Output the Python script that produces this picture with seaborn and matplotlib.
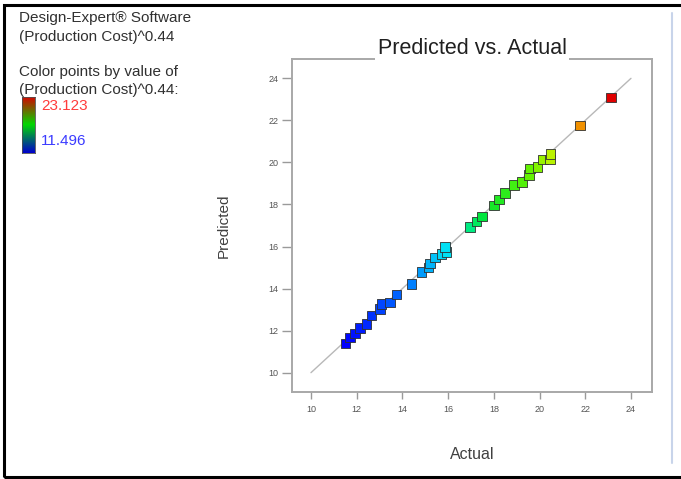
import numpy as np
import pandas as pd
import matplotlib
matplotlib.use("Agg")
import matplotlib.pyplot as plt
from matplotlib.colors import LinearSegmentedColormap, Normalize
from matplotlib.patches import Rectangle
from matplotlib.lines import Line2D
import seaborn as sns

# Observed vs. model-predicted (Production Cost)^0.44
actual = [11.50, 11.71, 11.92, 12.14, 12.44, 12.66, 13.02, 13.09, 13.46, 13.75,
          14.41, 14.84, 15.13, 15.21, 15.42, 15.72, 15.94, 15.86, 16.96, 17.25,
          17.49, 18.01, 18.22, 18.49, 18.89, 19.24, 19.54, 19.58, 19.92, 20.16,
          20.45, 20.49, 21.77, 23.12]
predicted = [11.40, 11.68, 11.87, 12.13, 12.32, 12.71, 13.03, 13.27, 13.35, 13.71,
             14.22, 14.78, 15.01, 15.18, 15.49, 15.65, 15.73, 15.97, 16.92, 17.20,
             17.44, 17.95, 18.24, 18.54, 18.93, 19.06, 19.41, 19.70, 19.78, 20.13,
             20.13, 20.41, 21.76, 23.08]
color_min, color_max = 11.496, 23.123
ref_line = [10, 24]
x_ticks = [10, 12, 14, 16, 18, 20, 22, 24]
y_ticks = [10, 12, 14, 16, 18, 20, 22, 24]

df = pd.DataFrame({"Actual": actual, "Predicted": predicted})

sns.set_theme(style="white")
plt.rcParams["font.family"] = ["Liberation Sans", "DejaVu Sans"]

W, H = 681, 479
fig = plt.figure(figsize=(W / 100, H / 100), dpi=100)

def fx(px):
    return px / W

def fy(py):
    return 1 - py / H

ax = fig.add_axes([fx(292), fy(392), fx(652) - fx(292), fy(59) - fy(392)])

point_cmap = LinearSegmentedColormap.from_list(
    "de_points",
    [(0.00, (0.00, 0.00, 1.00)),
     (0.25, (0.00, 0.50, 1.00)),
     (0.40, (0.00, 0.95, 0.95)),
     (0.52, (0.00, 0.90, 0.20)),
     (0.70, (0.40, 0.95, 0.00)),
     (0.78, (0.75, 0.95, 0.00)),
     (0.88, (0.95, 0.60, 0.00)),
     (1.00, (0.88, 0.00, 0.00))])
norm = Normalize(color_min, color_max)

# y = x reference line
sns.lineplot(x=ref_line, y=ref_line, ax=ax, color="#b8b8b8", linewidth=1.0,
             zorder=1)
sns.scatterplot(data=df, x="Actual", y="Predicted", hue="Actual",
                palette=point_cmap, hue_norm=norm, marker="s", s=46,
                edgecolor="#303030", linewidth=0.6, legend=False, ax=ax,
                zorder=3)

ax.set_xlim(9.17, 24.92)
ax.set_ylim(9.08, 24.92)
ax.set_xticks(x_ticks)
ax.set_yticks(y_ticks)
ax.set_xticklabels([str(t) for t in x_ticks])
ax.set_yticklabels([str(t) for t in y_ticks])
ax.tick_params(axis="x", direction="out", length=5, width=1.0, color="#9a9a9a",
               labelsize=6.5, labelcolor="#555555", pad=4, bottom=True)
ax.tick_params(axis="y", direction="out", length=7, width=1.0, color="#9a9a9a",
               labelsize=6.5, labelcolor="#555555", pad=3, left=True)
for sp in ax.spines.values():
    sp.set_color("#a8a8a8")
    sp.set_linewidth(1.4)

ax.set_xlabel("Actual", fontsize=11.5, color="#404040", va="center")
ax.xaxis.set_label_coords(0.5, -0.189)
ax.set_ylabel("Predicted", fontsize=11, color="#404040", va="center")
ax.yaxis.set_label_coords(-0.19, 0.5)

ax.text(0.5, 1.032, "Predicted vs. Actual", transform=ax.transAxes,
        ha="center", va="center", fontsize=15.5, color="#202020",
        bbox=dict(facecolor="white", edgecolor="none", pad=2), zorder=10,
        clip_on=False)

# Legend text block on the left
txt_kw = dict(fontsize=11, color="#303030", ha="left", va="center")
fig.text(fx(19), fy(18), "Design-Expert® Software", **txt_kw)
fig.text(fx(19), fy(37), "(Production Cost)^0.44", **txt_kw)
fig.text(fx(19), fy(72), "Color points by value of", **txt_kw)
fig.text(fx(19), fy(90), "(Production Cost)^0.44:", **txt_kw)
fig.text(fx(41), fy(106), f"{color_max:.3f}", fontsize=11, color="#ff3b3b",
         ha="left", va="center")
fig.text(fx(41), fy(141), f"{color_min:.3f}", fontsize=11, color="#3b3bff",
         ha="left", va="center")

# Small colour key: red (high) through green to blue (low)
key_cmap = LinearSegmentedColormap.from_list(
    "de_key", [(0.0, (0.0, 0.0, 0.8)), (0.5, (0.0, 0.85, 0.0)),
               (1.0, (0.85, 0.0, 0.0))])
cax = fig.add_axes([fx(22), fy(153), fx(35) - fx(22), fy(97) - fy(153)])
grad = np.linspace(0, 1, 128).reshape(-1, 1)
cax.imshow(grad, aspect="auto", cmap=key_cmap, origin="lower")
cax.set_xticks([])
cax.set_yticks([])
for sp in cax.spines.values():
    sp.set_color("#505050")
    sp.set_linewidth(0.6)

# Outer frame and right-hand divider
fig.add_artist(Rectangle((fx(4), fy(477)), fx(690) - fx(4), fy(5) - fy(477),
                         transform=fig.transFigure, fill=False,
                         edgecolor="black", linewidth=2.2))
fig.add_artist(Line2D([fx(672), fx(672)], [fy(13), fy(463)],
                      transform=fig.transFigure, color="#c8d4ea",
                      linewidth=1.5))

fig.savefig("out.png", dpi=100, facecolor="white")
